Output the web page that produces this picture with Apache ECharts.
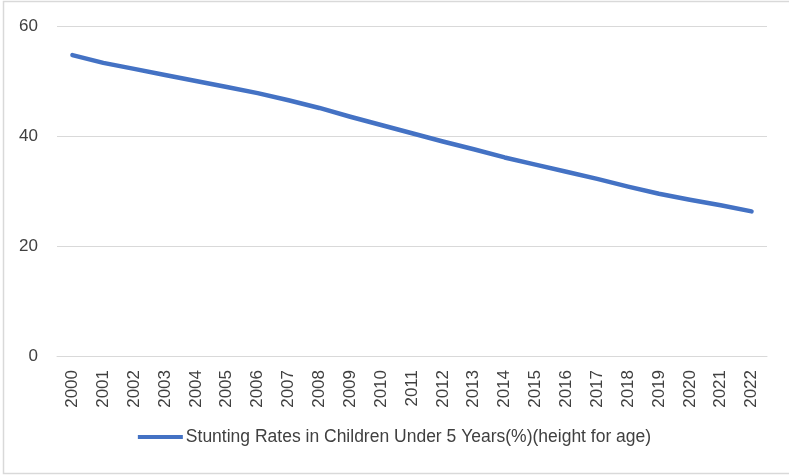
<!DOCTYPE html>
<html>
<head>
<meta charset="utf-8">
<script src="https://cdn.jsdelivr.net/npm/echarts@6/dist/echarts.min.js"></script>
<style>html,body{margin:0;padding:0;background:#fff;}#c{width:789px;height:476px;}</style>
</head>
<body>
<div id="c"></div>
<script>
const years = ['2000','2001','2002','2003','2004','2005','2006','2007','2008','2009','2010','2011','2012','2013','2014','2015','2016','2017','2018','2019','2020','2021','2022'];
const stunting = [54.7,53.3,52.2,51.1,50.0,48.9,47.8,46.5,45.1,43.5,42.0,40.5,39.0,37.6,36.1,34.8,33.5,32.2,30.8,29.5,28.4,27.4,26.3];
const yTicks = [0,20,40,60];
const seriesName = 'Stunting Rates in Children Under 5 Years(%)(height for age)';

const chart = echarts.init(document.getElementById('c'), null, {renderer:'canvas'});
chart.setOption({
  animation:false,
  backgroundColor:'#fff',
  textStyle:{fontFamily:'Liberation Sans, Arial, sans-serif'},
  graphic:[{type:'rect',shape:{x:3.5,y:1.5,width:800,height:472},style:{fill:'none',stroke:'#d9d9d9',lineWidth:1.5},silent:true,z:-1}],
  grid:{left:57,right:22,top:26,bottom:120,containLabel:false},
  xAxis:{type:'category',data:years,boundaryGap:true,
    axisLine:{show:true,lineStyle:{color:'#d9d9d9',width:1}},
    axisTick:{show:false},
    axisLabel:{rotate:90,color:'#404040',fontSize:17,margin:14,interval:0}},
  yAxis:{type:'value',min:yTicks[0],max:yTicks[yTicks.length-1],interval:20,
    axisLine:{show:false},axisTick:{show:false},
    splitLine:{lineStyle:{color:'#d9d9d9',width:1}},
    axisLabel:{color:'#404040',fontSize:17,margin:19}},
  legend:{show:true,bottom:25,left:'center',icon:'rect',itemWidth:45,itemHeight:4,
    textStyle:{color:'#404040',fontSize:17.5,padding:[0,0,0,-2]},data:[seriesName]},
  series:[{name:seriesName,type:'line',data:stunting,symbol:'none',smooth:false,
    lineStyle:{color:'#4472C4',width:4.5,cap:'round',join:'round'},itemStyle:{color:'#4472C4'}}]
});
</script>
</body>
</html>
